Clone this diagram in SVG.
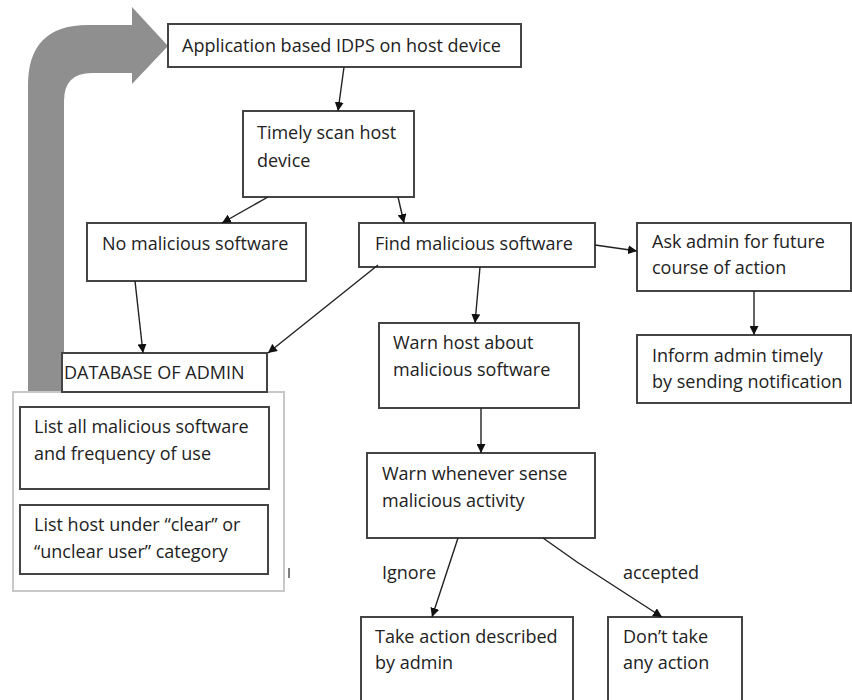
<svg xmlns="http://www.w3.org/2000/svg" width="852" height="700" viewBox="0 0 852 700">
<defs>
<marker id="ah" viewBox="0 0 10 10" refX="10" refY="5" markerWidth="9" markerHeight="9" markerUnits="userSpaceOnUse" orient="auto">
<path d="M0,0 L10,5 L0,10 Z" fill="#111"/>
</marker>
<style>
.box{fill:#fff;stroke:#444;stroke-width:2}
.t{font-family:"Open Sans","Liberation Sans",Arial,sans-serif;font-size:18px;fill:#222}
.c{fill:none;stroke:#222;stroke-width:1.4;marker-end:url(#ah)}
</style>
</defs>
<rect width="852" height="700" fill="#fff"/>
<g id="loop-arrow">
<path d="M28,392 L28,85 Q28,25 88,25 L132,25 L132,7 L168,46 L132,84 L132,73 L92,73 Q64,73 64,101 L64,392 Z" fill="#8f8f8f"/>
</g>
<g id="n-app"><rect class="box" x="168" y="24" width="353" height="43"/><text class="t" x="182" y="52">Application based IDPS on host device</text></g>
<g id="n-scan"><rect class="box" x="243" y="111" width="171" height="86"/><text class="t" x="257" y="139">Timely scan host</text><text class="t" x="257" y="167">device</text></g>
<g id="n-nomal"><rect class="box" x="87" y="223" width="219" height="58"/><text class="t" x="102" y="250">No malicious software</text></g>
<g id="n-find"><rect class="box" x="359" y="223" width="236" height="44"/><text class="t" x="375" y="250">Find malicious software</text></g>
<g id="n-ask"><rect class="box" x="637" y="223" width="214" height="68"/><text class="t" x="652" y="248">Ask admin for future</text><text class="t" x="652" y="274">course of action</text></g>
<g id="n-inform"><rect class="box" x="637" y="335" width="214" height="68"/><text class="t" x="652" y="362">Inform admin timely</text><text class="t" x="652" y="388">by sending notification</text></g>
<g id="n-warnhost"><rect class="box" x="379" y="323" width="200" height="85"/><text class="t" x="393" y="349">Warn host about</text><text class="t" x="393" y="376">malicious software</text></g>
<g id="n-db-group"><rect x="13" y="392" width="271" height="199" fill="#fff" stroke="#c8c8c8" stroke-width="2"/></g>
<g id="n-db"><rect class="box" x="62" y="353" width="205" height="39"/><text class="t" x="64" y="379">DATABASE OF ADMIN</text></g>
<g id="n-listall"><rect class="box" x="20" y="407" width="249" height="82"/><text class="t" x="34" y="433">List all malicious software</text><text class="t" x="34" y="460">and frequency of use</text></g>
<g id="n-listhost"><rect class="box" x="20" y="505" width="248" height="69"/><text class="t" x="34" y="531">List host under “clear” or</text><text class="t" x="34" y="558">“unclear user” category</text></g>
<g id="mark"><line x1="289" y1="568" x2="289" y2="578" stroke="#555" stroke-width="1.5"/></g>
<g id="n-warnever"><rect class="box" x="367" y="453" width="228" height="85"/><text class="t" x="382" y="480">Warn whenever sense</text><text class="t" x="382" y="507">malicious activity</text></g>
<g id="n-take"><rect class="box" x="361" y="617" width="212" height="90"/><text class="t" x="375" y="643">Take action described</text><text class="t" x="375" y="669">by admin</text></g>
<g id="n-dont"><rect class="box" x="608" y="617" width="134" height="90"/><text class="t" x="623" y="643">Don’t take</text><text class="t" x="623" y="669">any action</text></g>
<g id="connectors">
<path class="c" d="M344,67 L338,111"/>
<path class="c" d="M268,197 L222,223"/>
<path class="c" d="M398,197 L404,223"/>
<path class="c" d="M595,245 L637,251"/>
<path class="c" d="M754,291 L754,335"/>
<path class="c" d="M480,267 L475,323"/>
<path class="c" d="M135,281 L143,353"/>
<path class="c" d="M378,265 L268,353"/>
<path class="c" d="M481,408 L481,453"/>
<path class="c" d="M458,538 L432,617"/>
<path class="c" d="M543,538 L577,562 L662,617"/>
</g>
<g id="labels">
<text class="t" x="382" y="579">Ignore</text>
<text class="t" x="623" y="579">accepted</text>
</g>
</svg>
